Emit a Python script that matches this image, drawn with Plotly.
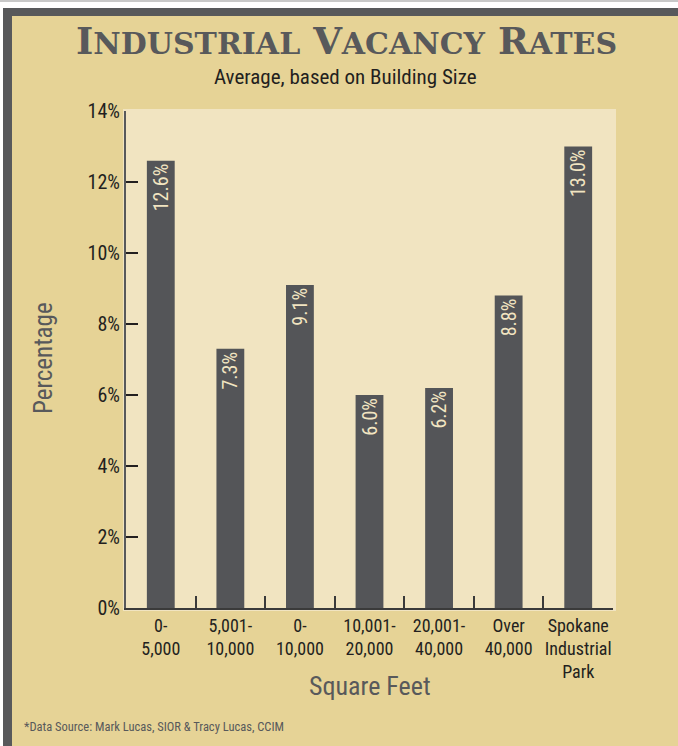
import plotly.graph_objects as go

# ---- data ----
categories = ["0-<br>5,000", "5,001-<br>10,000", "0-<br>10,000", "10,001-<br>20,000",
              "20,001-<br>40,000", "Over<br>40,000", "Spokane<br>Industrial<br>Park"]
vacancy_pct = [12.6, 7.3, 9.1, 6.0, 6.2, 8.8, 13.0]
y_ticks = [0, 2, 4, 6, 8, 10, 12, 14]

# ---- style ----
TAN = "#e6d396"
LIGHT = "#f1e4c1"
DARK = "#545558"
INK = "#231f20"
COND = "Roboto Condensed, DejaVu Sans Condensed, sans-serif"

W, H = 678, 746
L, R, T, B = 126, 65, 111, 138
PW, PH = W - L - R, H - T - B

def px(x):
    return (x - L) / PW

def py(y):
    return (H - B - y) / PH

fig = go.Figure(go.Bar(
    x=categories, y=vacancy_pct,
    marker=dict(color=DARK, line=dict(width=0)),
    texttemplate="%{y:.1f}%", textposition="inside", textangle=-90,
    insidetextanchor="end", constraintext="none",
    textfont=dict(family=COND, size=20, color=LIGHT),
    hoverinfo="skip",
))

shapes = [
    # light plot panel
    dict(type="rect", xref="paper", yref="paper", x0=px(123), x1=px(616), y0=py(611), y1=py(109),
         fillcolor=LIGHT, line_width=0, layer="below"),
    # white strip on top and left
    dict(type="rect", xref="paper", yref="paper", x0=px(0), x1=px(W), y0=py(8), y1=py(0),
         fillcolor="white", line_width=0, layer="below"),
    dict(type="rect", xref="paper", yref="paper", x0=px(0), x1=px(W), y0=py(2), y1=py(0),
         fillcolor="#c8c8c8", line_width=0, layer="below"),
    dict(type="rect", xref="paper", yref="paper", x0=px(0), x1=px(3), y0=py(H), y1=py(8),
         fillcolor="white", line_width=0, layer="below"),
    # dark frame
    dict(type="rect", xref="paper", yref="paper", x0=px(3), x1=px(W), y0=py(16), y1=py(8),
         fillcolor="#58595b", line_width=0, layer="below"),
    dict(type="rect", xref="paper", yref="paper", x0=px(3), x1=px(12), y0=py(H), y1=py(8),
         fillcolor="#58595b", line_width=0, layer="below"),
]

sc = "font-size:30px"
title_html = ("I<span style='%s'>NDUSTRIAL</span> V<span style='%s'>ACANCY</span> "
              "R<span style='%s'>ATES</span>") % (sc, sc, sc)

annotations = [
    dict(text=title_html, x=px(346), y=py(41), xref="paper", yref="paper", showarrow=False,
         xanchor="center", yanchor="middle",
         font=dict(family="DejaVu Serif", size=37, color="#58595b", weight="bold")),
    dict(text="Average, based on Building Size", x=px(345), y=py(77), xref="paper", yref="paper",
         showarrow=False, xanchor="center", yanchor="middle",
         font=dict(family=COND, size=21, color=INK)),
    dict(text="Percentage", x=px(43), y=py(358), xref="paper", yref="paper", showarrow=False,
         textangle=-90, xanchor="center", yanchor="middle",
         font=dict(family=COND, size=25, color="#58595b")),
    dict(text="Square Feet", x=px(370), y=py(686), xref="paper", yref="paper", showarrow=False,
         xanchor="center", yanchor="middle",
         font=dict(family=COND, size=26, color="#58595b")),
    dict(text="*Data Source: Mark Lucas, SIOR &amp; Tracy Lucas, CCIM", x=px(22), y=py(726),
         xref="paper", yref="paper", showarrow=False, xanchor="left", yanchor="middle",
         font=dict(family=COND, size=12.5, color="#58595b")),
]

fig.update_layout(
    width=W, height=H,
    margin=dict(l=L, r=R, t=T, b=B, pad=0),
    paper_bgcolor=TAN, plot_bgcolor="rgba(0,0,0,0)",
    bargap=0.6, showlegend=False,
    shapes=shapes, annotations=annotations,
    xaxis=dict(
        type="category", tickson="boundaries", ticks="inside", ticklen=12, tickwidth=2,
        tickcolor="#3a3a3a", showline=True, linecolor="#3a3a3a", linewidth=2,
        showgrid=False, zeroline=False, fixedrange=True, tickangle=0,
        tickfont=dict(family=COND, size=18, color=INK),
    ),
    yaxis=dict(
        range=[0, 14], tickvals=y_ticks, ticktext=[f"{v}%" for v in y_ticks],
        ticks="inside", ticklen=12, tickwidth=2, tickcolor=INK,
        showline=True, linecolor="#58595b", linewidth=2,
        showgrid=False, zeroline=False, fixedrange=True,
        tickfont=dict(family=COND, size=20, color=INK),
    ),
)

fig.write_html("out.html", config={"displayModeBar": False, "staticPlot": True},
               post_script="document.body.style.margin='0px';")
